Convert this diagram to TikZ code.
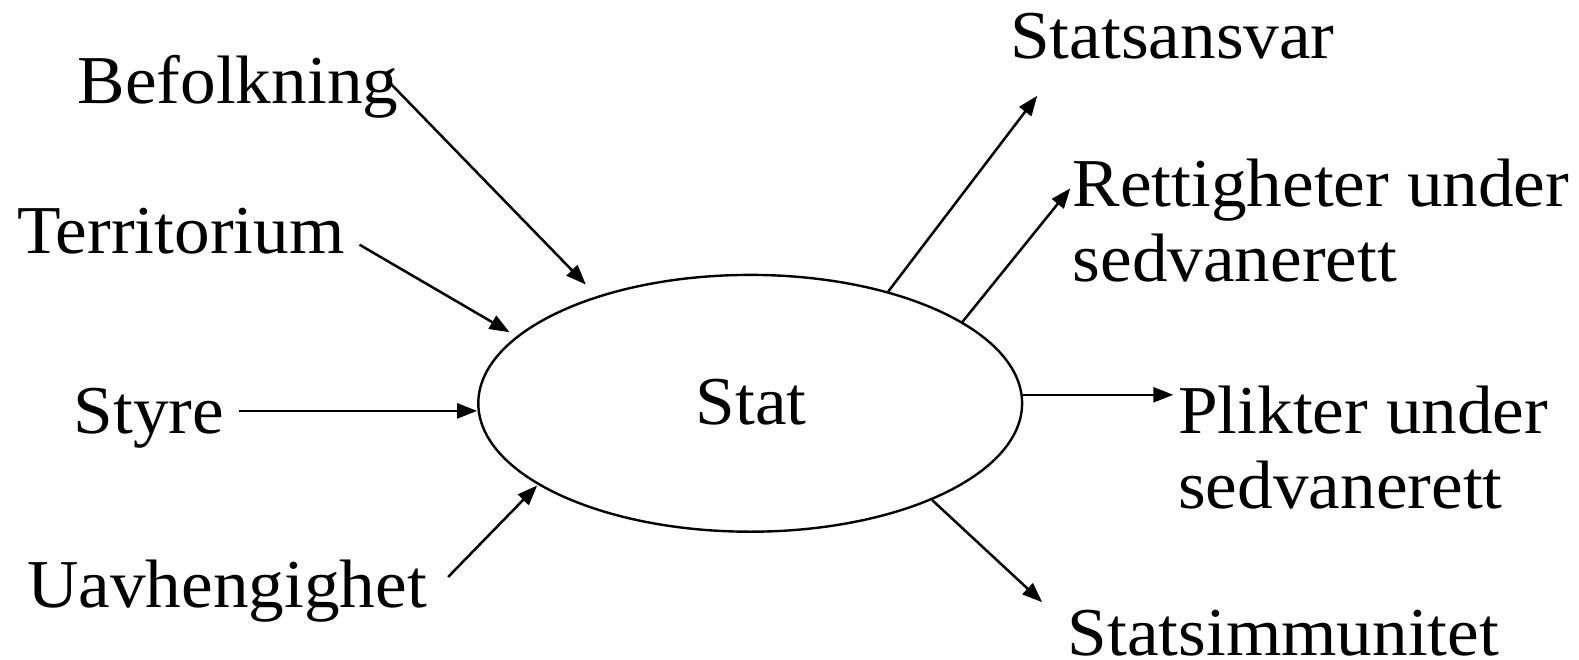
\documentclass[tikz,border=0pt]{standalone}
\usepackage{fontspec}
\setmainfont{Liberation Serif}[FakeStretch=1.04]
\usetikzlibrary{shapes.geometric,arrows.meta}
\tikzset{
  lbl/.style={anchor=base west, inner sep=0pt, font=\fontsize{68.5}{75.5}\selectfont, align=left},
  arr/.style={line width=2.5pt, -{Triangle[length=20pt,width=15pt]}},
}
\begin{document}
\begin{tikzpicture}[x=1pt,y=-1pt]
\useasboundingbox (0,0) rectangle (1579,660);
\node[draw, ellipse, line width=2.4pt, minimum width=543.8pt, minimum height=256.8pt, inner sep=0pt] (stat) at (750.2,403.3) {};
\node[inner sep=0pt, anchor=base, font=\fontsize{68.5}{75.5}\selectfont] (statlbl) at (751,424) {Stat};
% left labels
\node[lbl] (bef) at (77.5,103.7) {Befolkning};
\node[lbl] (ter) at (17,253.8) {Territorium};
\node[lbl] (sty) at (73.5,433) {Styre};
\node[lbl] (uav) at (27,607) {Uavhengighet};
% right labels (base anchor = baseline of the last line)
\node[lbl] (sansv) at (1010,58.4) {Statsansvar};
\node[lbl] (ret) at (1072.5,282) {Rettigheter under\\sedvanerett};
\node[lbl] (pli) at (1178,508.5) {Plikter under\\sedvanerett};
\node[lbl] (simm) at (1067.5,655) {Statsimmunitet};
% connector ends
\coordinate (bef-s) at (387.7,80.6);
\coordinate (ter-s) at (359.5,244.7);
\coordinate (sty-s) at (238.7,410.9);
\coordinate (uav-s) at (448.1,577);
\coordinate (sansv-t) at (1037.3,95.7);
\coordinate (ret-t) at (1070.3,188.3);
\coordinate (pli-t) at (1173.3,394.8);
\coordinate (simm-t) at (1042.2,602.2);
% incoming
\draw[arr, shorten >=16pt] (bef-s) -- (stat.145.8);
\draw[arr, shorten >=8pt] (ter-s) -- (stat.164.3);
\draw[arr] (sty-s) -- (sty-s -| stat.west);
\draw[arr, shorten >=1pt] (uav-s) -- (stat.201.65);
% outgoing
\draw[arr] (stat.39.8) -- (sansv-t);
\draw[arr] (stat.21.45) -- (ret-t);
\draw[arr] (pli-t -| stat.east) -- (pli-t);
\draw[arr] (stat.-28.2) -- (simm-t);
\end{tikzpicture}
\end{document}
